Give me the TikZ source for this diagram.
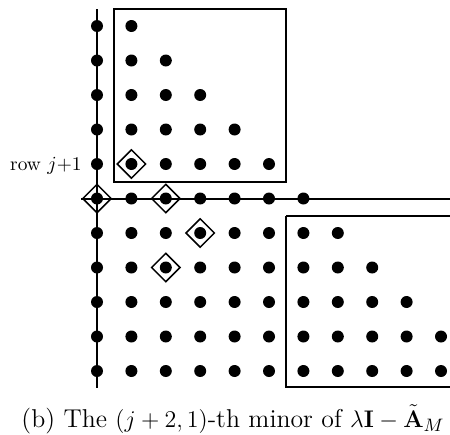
\documentclass[tikz,border=0pt]{standalone}
\usepackage{amsmath}
\usetikzlibrary{shapes.geometric}
\begin{document}
\begin{tikzpicture}[x=0.5pt,y=-0.5pt,
  dot/.style={circle,fill=black,inner sep=0pt,minimum size=6pt},
  mark box/.style={diamond,draw,line width=0.75pt,inner sep=0pt,minimum width=14.5pt,minimum height=14.5pt},
  axis/.style={line width=1pt},
  blockbox/.style={draw,line width=0.75pt}]
\useasboundingbox (0,0) rectangle (450,434);
% dots
\foreach \r in {0,...,10}{
  \pgfmathtruncatemacro{\cmax}{min(\r+1,10)}
  \foreach \c in {0,...,\cmax}{
    \node[dot] (d-\r-\c) at ({97+34.4*\c},{26+34.5*\r}) {};
  }
}
% axes
\coordinate (vtop) at (97,9);
\coordinate (vbot) at (97,388);
\coordinate (hleft) at (81,199);
\coordinate (hright) at (450,199);
\draw[axis] (vtop) -- (vbot);
\draw[axis] (hleft) -- (hright);
% blocks
\draw[blockbox] (114,9) rectangle (286,182);
\draw[blockbox] (286,216) -- (450,216);
\draw[blockbox] (286,216) -- (286,387) -- (450,387);
% diamonds
\foreach \p in {4-1,5-0,5-2,6-3,7-2}{
  \node[mark box] (m-\p) at (d-\p) {};
}
% labels
\node[anchor=base east,inner sep=0pt,font=\fontsize{9.7}{11}\selectfont] (rowlab) at (82,170) {row $j$+1};
\node[anchor=base,inner sep=0pt,font=\fontsize{12.9}{15}\selectfont] (cap) at (233,427) {(b) The $(j+2,1)$-th minor of $\lambda\mathbf{I}-\tilde{\mathbf{A}}_M$};
\end{tikzpicture}
\end{document}
